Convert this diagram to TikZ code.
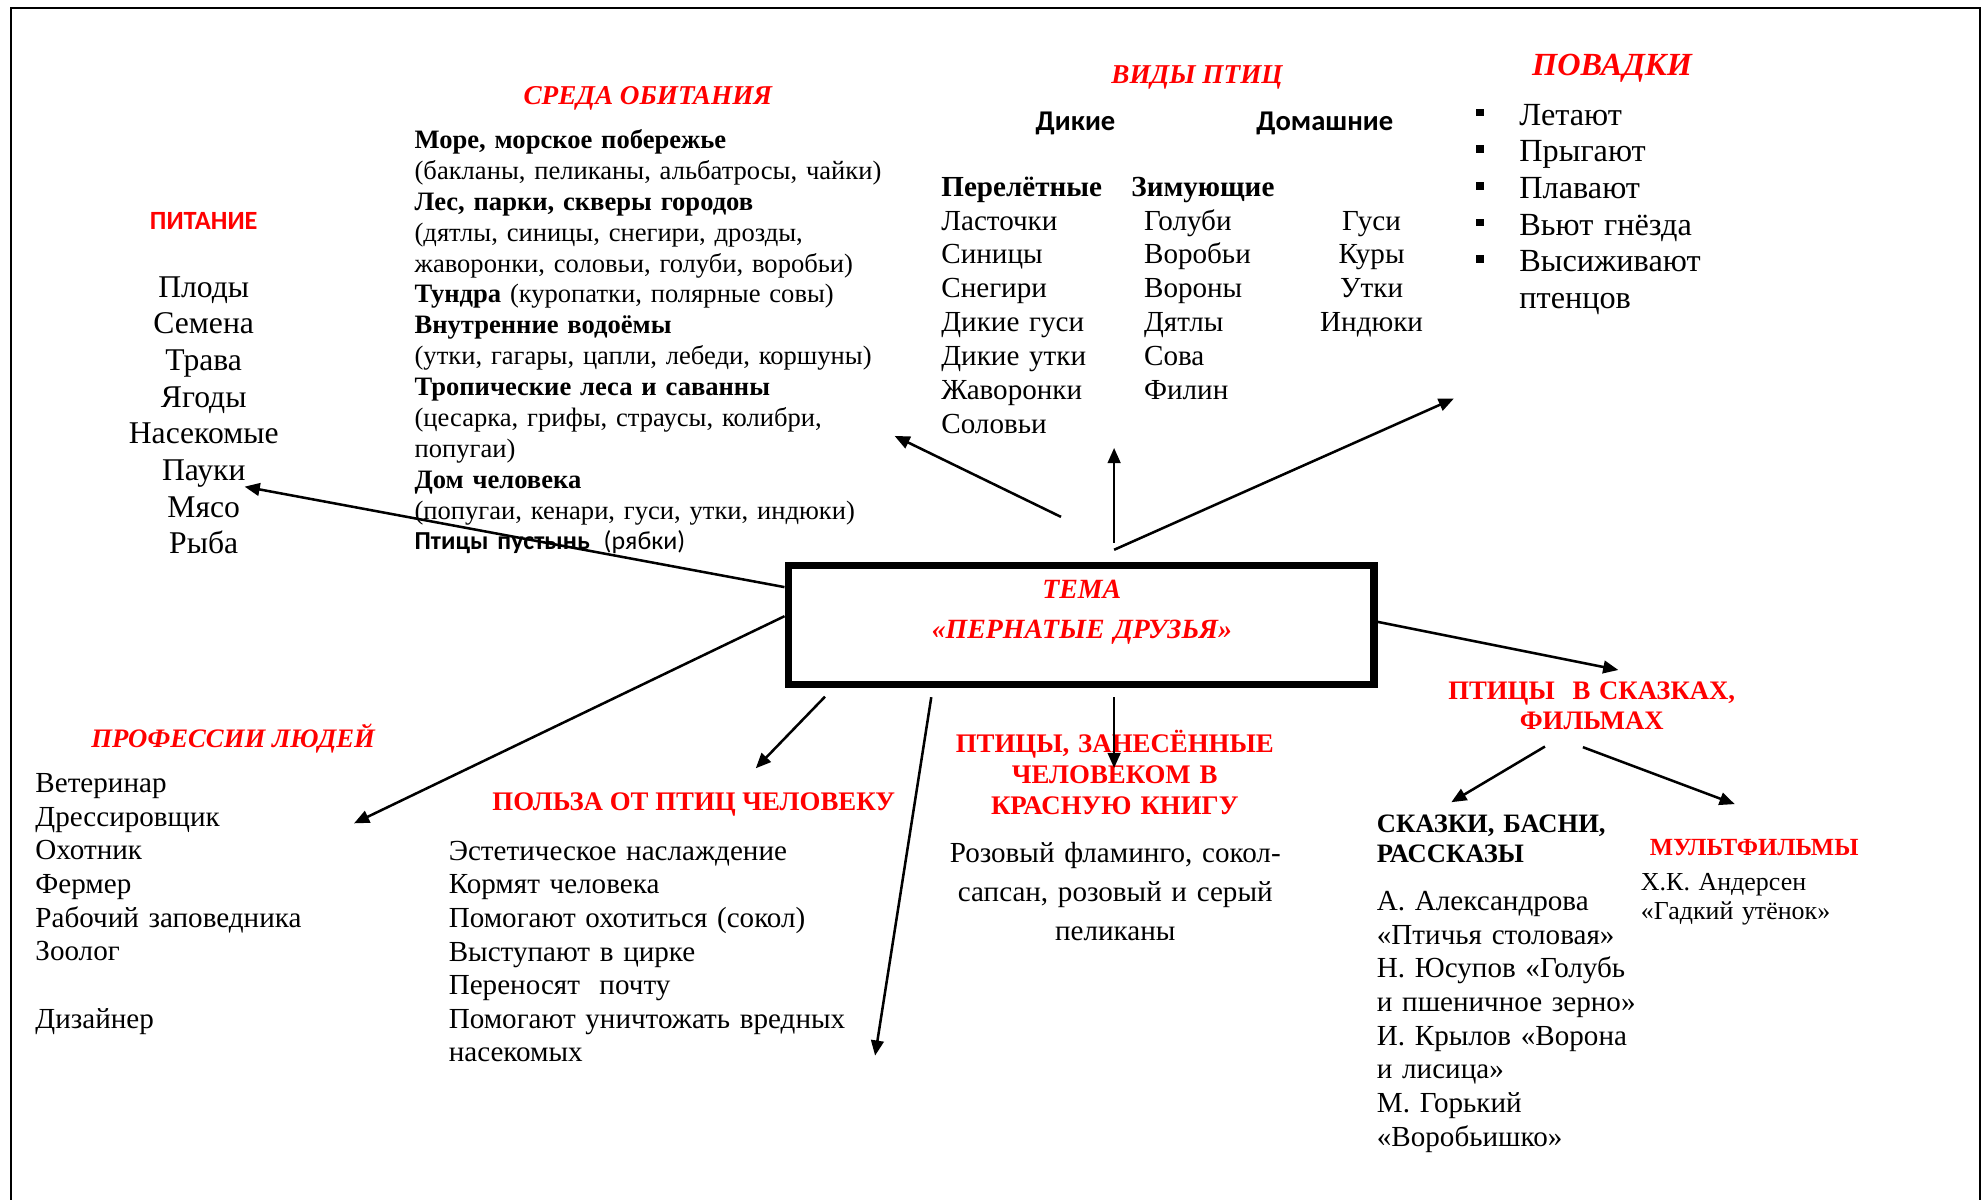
\documentclass[tikz,border=0pt]{standalone}
\usepackage{fontspec}
\setmainfont{Liberation Serif}
\newfontfamily\calibri{Carlito}
\usetikzlibrary{arrows.meta}
\newcommand{\fsz}[2]{\fontsize{#1}{#2}\selectfont}
\newcommand{\bsq}{\makebox[34.6pt][l]{\rule[7pt]{6.5pt}{6pt}}}

\begin{document}
\begin{tikzpicture}[x=1pt,y=-1pt,
  txt/.style={inner sep=0pt,text width=#1,align=left,anchor=base west},
  txt/.default=400pt,
  ctxt/.style={inner sep=0pt,text width=#1,align=center,anchor=base},
  ctxt/.default=320pt,
  hdr/.style={inner sep=0pt,text=red,anchor=base},
  arr/.style={-{Triangle[length=12pt,width=10pt]},line width=2pt}]

\useasboundingbox (0,0) rectangle (1568,948);
\draw[line width=1.5pt] (8.5,948) -- (8.5,6.5) -- (1564.5,6.5) -- (1564.5,948);

\node[draw,line width=6pt,minimum width=463pt,minimum height=94pt,inner sep=0pt] (tema) at (854.5,494) {};
\node[ctxt,text=red,font=\fsz{22}{31.6}\bfseries\itshape] (tema-t) at (855,472.9) {ТЕМА\\«ПЕРНАТЫЕ ДРУЗЬЯ»};

\node[hdr,font=\calibri\fsz{20.8}{24}\bfseries] (pit) at (161,181) {ПИТАНИЕ};
\node[ctxt=200pt,font=\fsz{25}{29}] (pit-l) at (161,234.8) {Плоды\\Семена\\Трава\\Ягоды\\Насекомые\\Пауки\\Мясо\\Рыба};

\node[hdr,font=\fsz{21.5}{24}\bfseries\itshape] (sreda) at (512,82.6) {СРЕДА ОБИТАНИЯ};
\node[txt,font=\fsz{21}{24.4}] (sreda-l) at (327.5,117.4) {\textbf{Море, морское побережье}\\
  (бакланы, пеликаны, альбатросы, чайки)\\
  \textbf{Лес, парки, скверы городов}\\
  (дятлы, синицы, снегири, дрозды,\\
  жаворонки, соловьи, голуби, воробьи)\\
  \textbf{Тундра} (куропатки, полярные совы)\\
  \textbf{Внутренние водоёмы}\\
  (утки, гагары, цапли, лебеди, коршуны)\\
  \textbf{Тропические леса и саванны}\\
  (цесарка, грифы, страусы, колибри,\\
  попугаи)\\
  \textbf{Дом человека}\\
  (попугаи, кенари, гуси, утки, индюки)\\
  {\calibri\fsz{20.5}{24.4}\textbf{Птицы пустынь}\hspace{11pt}(рябки)}};

\node[hdr,font=\fsz{21.5}{24}\bfseries\itshape] (vidy) at (946,66.3) {ВИДЫ ПТИЦ};
\node[hdr,text=black,font=\calibri\fsz{22.6}{24}\bfseries] (dikie) at (850,103) {Дикие};
\node[hdr,text=black,font=\calibri\fsz{22.6}{24}\bfseries] (domash) at (1047,103) {Домашние};
\node[txt=150pt,font=\fsz{23}{26.8}] (perel) at (743.8,155) {\textbf{Перелётные}\\Ласточки\\Синицы\\Снегири\\Дикие гуси\\Дикие утки\\Жаворонки\\Соловьи};
\node[txt=150pt,font=\fsz{23}{26.8}\bfseries] (zim) at (894,155) {Зимующие};
\node[txt=150pt,font=\fsz{23}{26.8}] (zim-l) at (904,181.8) {Голуби\\Воробьи\\Вороны\\Дятлы\\Сова\\Филин};
\node[ctxt=150pt,font=\fsz{23}{26.8}] (dom-l) at (1084,181.8) {Гуси\\Куры\\Утки\\Индюки};

\node[hdr,font=\fsz{25.5}{29}\bfseries\itshape] (povadki) at (1274,59.8) {ПОВАДКИ};
\node[txt=250pt,font=\fsz{25.5}{29}] (povadki-l) at (1166,98.8) {\bsq Летают\\\bsq Прыгают\\\bsq Плавают\\\bsq Вьют гнёзда\\\bsq Высиживают\\\hspace*{34.6pt}птенцов};

\node[hdr,font=\fsz{21.1}{24}\bfseries\itshape,anchor=base west] (prof) at (72,590.5) {ПРОФЕССИИ ЛЮДЕЙ};
\node[txt,font=\fsz{23}{26.6}] (prof-l) at (27.8,626.4) {Ветеринар\\Дрессировщик\\Охотник\\Фермер\\Рабочий заповедника\\Зоолог\\\mbox{}\\Дизайнер};

\node[hdr,font=\fsz{21.2}{24}\bfseries,anchor=base west] (polza) at (389,640.4) {ПОЛЬЗА ОТ ПТИЦ ЧЕЛОВЕКУ};
\node[txt,font=\fsz{23}{26.6}] (polza-l) at (354.5,679.7) {Эстетическое наслаждение\\Кормят человека\\Помогают охотиться (сокол)\\Выступают в цирке\\Переносят\ \ почту\\Помогают уничтожать вредных\\насекомых};

\node[ctxt,text=red,font=\fsz{21.2}{24.5}\bfseries] (kniga) at (881,594.8) {ПТИЦЫ, ЗАНЕСЁННЫЕ\\ЧЕЛОВЕКОМ В\\КРАСНУЮ КНИГУ};
\node[ctxt,font=\fsz{23}{30.8}] (kniga-l) at (881.4,681.3) {Розовый фламинго, сокол-\\сапсан, розовый и серый\\пеликаны};

\node[ctxt,text=red,font=\fsz{21.1}{23.2}\bfseries] (skazki) at (1258,553.2) {ПТИЦЫ\ \ В СКАЗКАХ,\\ФИЛЬМАХ};
\node[txt=220pt,font=\fsz{21}{23.3}\bfseries] (basni) at (1088,658) {СКАЗКИ, БАСНИ,\\РАССКАЗЫ};
\node[txt=220pt,font=\fsz{23}{26.6}] (basni-l) at (1088,719.6) {А. Александрова\\«Птичья столовая»\\Н. Юсупов «Голубь\\и пшеничное зерно»\\И. Крылов «Ворона\\и лисица»\\М. Горький\\«Воробьишко»};
\node[hdr,font=\fsz{19.5}{24}\bfseries,anchor=base west] (mult) at (1303.8,676.4) {МУЛЬТФИЛЬМЫ};
\node[txt=200pt,font=\fsz{20.5}{22.7}] (mult-l) at (1296.7,703.6) {Х.К. Андерсен\\«Гадкий утёнок»};

\coordinate (sreda-s) at (838.5,408.5);
\coordinate (sreda-e) at (707,344.5);
\coordinate (vidy-s) at (880.5,429);
\coordinate (vidy-e) at (880.5,354);
\coordinate (povadki-s) at (880.5,434.5);
\coordinate (povadki-e) at (1149,315);
\coordinate (pit-e) at (193.3,384.6);
\coordinate (prof-e) at (279.8,650.7);
\coordinate (polza-s) at (652,550.6);
\coordinate (polza-e) at (597.3,607.2);
\coordinate (dlin-s) at (736,551);
\coordinate (dlin-e) at (691.6,834.3);
\coordinate (kniga-s) at (880.5,551);
\coordinate (kniga-e) at (880.5,607);
\coordinate (skazki-e) at (1279,529.5);
\coordinate (basni-s) at (1221,590);
\coordinate (basni-e) at (1147,634);
\coordinate (mult-s) at (1251,590.5);
\coordinate (mult-e) at (1371,635.5);

\path[arr]
  ([yshift=30pt]tema.west) edge (pit-e)
  ([yshift=7pt]tema.west) edge (prof-e)
  ([yshift=2.5pt]tema.east) edge (skazki-e)
  (sreda-s) edge (sreda-e)
  (vidy-s) edge (vidy-e)
  (povadki-s) edge (povadki-e)
  (polza-s) edge (polza-e)
  (dlin-s) edge (dlin-e)
  (kniga-s) edge (kniga-e)
  (basni-s) edge (basni-e)
  (mult-s) edge (mult-e);
\end{tikzpicture}
\end{document}
